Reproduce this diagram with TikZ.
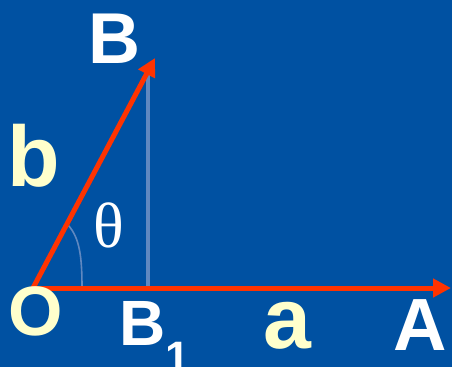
\documentclass[tikz,border=0pt]{standalone}
\usepackage{fontspec}
\setmainfont{Liberation Sans}
\newfontfamily\greekfont{Liberation Serif}
\usetikzlibrary{arrows.meta}

\definecolor{bgblue}{HTML}{0051A2}
\definecolor{vecred}{HTML}{FF3300}
\definecolor{lblyellow}{HTML}{FFFFCC}
\definecolor{projgray}{HTML}{6088C0}

\begin{document}
\begin{tikzpicture}[
    x=1pt, y=-1pt,
    vec/.style={line width=5pt, draw=vecred, -{Triangle[length=18pt,width=18pt]}},
    proj/.style={line width=3.5pt, draw=projgray},
    anglearc/.style={line width=1.6pt, draw=projgray},
    pointlbl/.style={text=white, inner sep=0pt, font=\bfseries},
    veclbl/.style={text=lblyellow, inner sep=0pt, font=\bfseries}
]
\fill[bgblue] (0,0) rectangle (452,367);
\useasboundingbox (0,0) rectangle (452,367);

% points
\coordinate (O) at (33,288);
\coordinate (A) at (451,288);
\coordinate (B) at (155,58);
\coordinate (Btop) at (148,75);
\coordinate (Bfoot) at (148,288);
\coordinate (arcstart) at (68,225);
\coordinate (arcend) at (82,288);

% projection and angle
\draw [proj] (Btop) -- (Bfoot);
\draw [anglearc] (arcstart) .. controls (80,238) and (82,258) .. (arcend);

% vectors
\draw [vec] (O) -- (A);
\draw [vec] (O) -- (B);

% labels
\node (lblB) [pointlbl, font=\fontsize{72}{72}\bfseries] at (114.5,39) {B};
\node (lblb) [veclbl, font=\fontsize{86}{86}\bfseries] at (33.5,156) {b};
\node (lbltheta) [text=white, inner sep=0pt, font=\fontsize{64}{64}\greekfont] at (108.5,225) {θ};
\node (lblO) [veclbl, font=\fontsize{70}{70}\bfseries] at (36,311.5) {O};
\node (lblB1) [pointlbl, anchor=base west, font=\fontsize{64}{64}\bfseries] at (119,345) {B\raisebox{-27pt}{\fontsize{44}{44}\selectfont 1}};
\node (lbla) [veclbl, font=\fontsize{86}{86}\bfseries] at (287.5,325.5) {a};
\node (lblA) [pointlbl, font=\fontsize{74}{74}\bfseries] at (420.5,325.5) {A};

\end{tikzpicture}
\end{document}
